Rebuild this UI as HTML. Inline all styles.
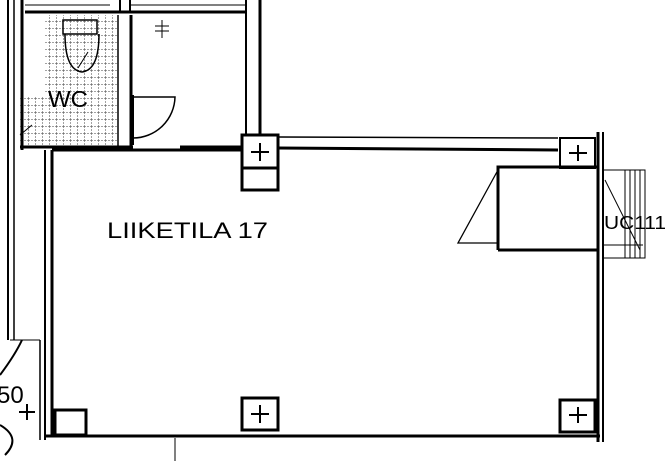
<!DOCTYPE html>
<html><head><style>body{margin:0;background:#fff}svg{display:block}</style></head><body>
<svg width="671" height="461" viewBox="0 0 671 461" xmlns="http://www.w3.org/2000/svg" font-family="Liberation Sans, sans-serif">
<defs><pattern id="g" width="7" height="7" patternUnits="userSpaceOnUse"><path d="M0 0H7M0 0V7" stroke="#444" stroke-width="1" stroke-dasharray="2 1" fill="none"/></pattern></defs>
<rect width="671" height="461" fill="#fff"/>
<rect x="45" y="15" width="72" height="130" fill="url(#g)"/>
<rect x="20" y="97" width="30" height="48" fill="url(#g)"/>
<g stroke="#000" fill="none">
<line x1="8" y1="0" x2="8" y2="340" stroke-width="2"/>
<line x1="14" y1="0" x2="14" y2="340" stroke-width="1.5"/>
<line x1="22" y1="0" x2="22" y2="150" stroke-width="3"/>
<line x1="25" y1="12" x2="245" y2="12" stroke-width="3"/>
<line x1="25" y1="5" x2="110" y2="5" stroke-width="1"/>
<line x1="130" y1="5" x2="245" y2="5" stroke-width="1"/>
<line x1="120" y1="0" x2="120" y2="12" stroke-width="2"/>
<line x1="130" y1="0" x2="130" y2="12" stroke-width="2"/>
<line x1="246" y1="0" x2="246" y2="135" stroke-width="2"/>
<line x1="260" y1="0" x2="260" y2="135" stroke-width="3"/>
<line x1="118" y1="15" x2="118" y2="148" stroke-width="1.5"/>
<line x1="131" y1="15" x2="131" y2="148" stroke-width="3"/>
<line x1="20" y1="147" x2="133" y2="147" stroke-width="3"/>
<path d="M63 20h34v14h-34zM65 34q0 36 17 38q17-2 17-38" stroke-width="1.5"/>
<line x1="78" y1="68" x2="88" y2="52"/>
<line x1="20" y1="135" x2="32" y2="125"/>
<path d="M155 26h14M155 31h14M162 20v18" stroke-width="1"/>
<path d="M133 97h42a42 42 0 0 1 -42 41" stroke-width="1.5"/>
<line x1="133" y1="95" x2="133" y2="145" stroke-width="2"/>
<line x1="180" y1="147" x2="243" y2="147" stroke-width="3"/>
<line x1="278" y1="137" x2="558" y2="138" stroke-width="1.5"/>
<line x1="278" y1="148" x2="558" y2="150" stroke-width="3"/>
<line x1="52" y1="150" x2="242" y2="150" stroke-width="3"/>
<line x1="52" y1="150" x2="52" y2="436" stroke-width="3"/>
<line x1="45" y1="150" x2="45" y2="440" stroke-width="2"/>
<line x1="40" y1="340" x2="40" y2="440" stroke-width="1.5"/>
<line x1="10" y1="340" x2="40" y2="340" stroke-width="1"/>
<line x1="45" y1="436" x2="600" y2="436" stroke-width="3"/>
<line x1="175" y1="438" x2="175" y2="461" stroke-width="1"/>
<line x1="598" y1="132" x2="598" y2="442" stroke-width="3"/>
<line x1="603" y1="132" x2="603" y2="442" stroke-width="2"/>
<rect x="242" y="135" width="36" height="33" stroke-width="3"/>
<rect x="242" y="168" width="36" height="22" stroke-width="3"/>
<rect x="560" y="138" width="35" height="30" stroke-width="2"/>
<rect x="242" y="398" width="36" height="32" stroke-width="3"/>
<rect x="560" y="400" width="35" height="32" stroke-width="3"/>
<rect x="55" y="410" width="31" height="25" stroke-width="3"/>
<path d="M260 143v18M251 152h18M578 145v16M569 153h18M260 405v18M251 414h18M578 407v16M569 415h18M27 404v16M19 412h16" stroke-width="2"/>
<path d="M498 250V167H598M498 250H598" stroke-width="3"/>
<path d="M498 170L458 243H498" stroke-width="1.3"/>
<rect x="603" y="170" width="42" height="88" stroke-width="1"/>
<path d="M625 170v88M630 170v88M635 170v88M640 170v88M603 245h40" stroke-width="1"/>
<line x1="605" y1="180" x2="640" y2="250" stroke-width="1"/>
<path d="M0 375Q15 355 22 340" stroke-width="2"/>
<path d="M0 425Q22 438 5 455" stroke-width="2"/>
</g>
<text x="107" y="238" font-size="22" textLength="161" lengthAdjust="spacingAndGlyphs">LIIKETILA 17</text>
<text x="48" y="107" font-size="23" textLength="40" lengthAdjust="spacingAndGlyphs">WC</text>
<text x="604" y="229" font-size="18" textLength="62" lengthAdjust="spacingAndGlyphs">UC111</text>
<text x="-3" y="403" font-size="24">50</text>
</svg>
</body></html>
